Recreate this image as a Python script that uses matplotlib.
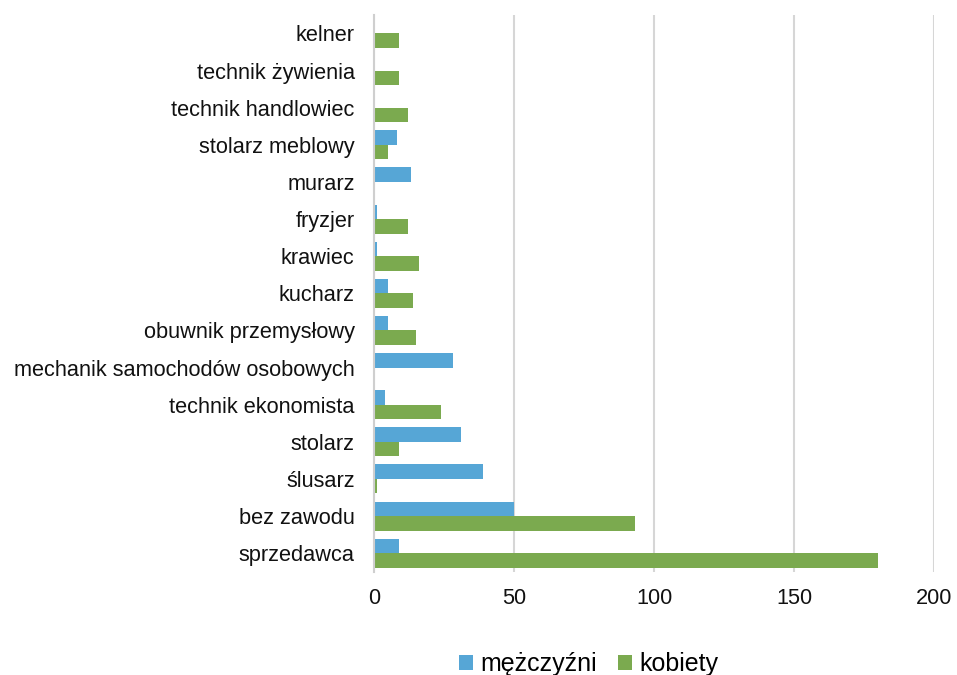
import matplotlib
matplotlib.use("Agg")
import matplotlib.pyplot as plt
import numpy as np

# zawody (od dołu wykresu do góry)
zawody = ["sprzedawca", "bez zawodu", "ślusarz", "stolarz", "technik ekonomista",
          "mechanik samochodów osobowych", "obuwnik przemysłowy", "kucharz", "krawiec",
          "fryzjer", "murarz", "stolarz meblowy", "technik handlowiec",
          "technik żywienia", "kelner"]
mezczyzni = [9, 50, 39, 31, 4, 28, 5, 5, 1, 1, 13, 8, 0, 0, 0]
kobiety = [180, 93, 1, 9, 24, 0, 15, 14, 16, 12, 0, 5, 12, 9, 9]

plt.rcParams['font.family'] = ['Liberation Sans', 'DejaVu Sans']

fig = plt.figure(figsize=(9.57, 6.75), dpi=100)
ax = fig.add_axes([0.391, 0.153, 0.585, 0.825])

y = np.arange(len(zawody))
h = 0.39
ax.barh(y + h / 2, mezczyzni, height=h, color='#56A6D6', label='mężczyźni')
ax.barh(y - h / 2, kobiety, height=h, color='#7BAA4F', label='kobiety')

ax.set_xlim(0, 200)
ax.set_ylim(-0.5, len(zawody) - 0.5)
ax.set_xticks([0, 50, 100, 150, 200])
ax.set_yticks(y)
ax.set_yticklabels(zawody)
ax.tick_params(axis='y', length=0, pad=14, labelsize=15.7, labelcolor='#111111')
ax.tick_params(axis='x', length=0, pad=12, labelsize=15.7, labelcolor='#111111')

for s in ['top', 'right', 'bottom']:
    ax.spines[s].set_visible(False)
ax.spines['left'].set_color('#cfcfcf')
ax.spines['left'].set_linewidth(1.5)
ax.grid(axis='x', color='#d6d6d6', linewidth=1.5)
ax.set_axisbelow(True)

fig.legend(loc='lower center', bbox_to_anchor=(0.615, -0.035), ncol=2, frameon=False,
           fontsize=18, handlelength=0.55, handleheight=0.55, handletextpad=0.3,
           columnspacing=0.85)

fig.savefig("out.png", dpi=100)
